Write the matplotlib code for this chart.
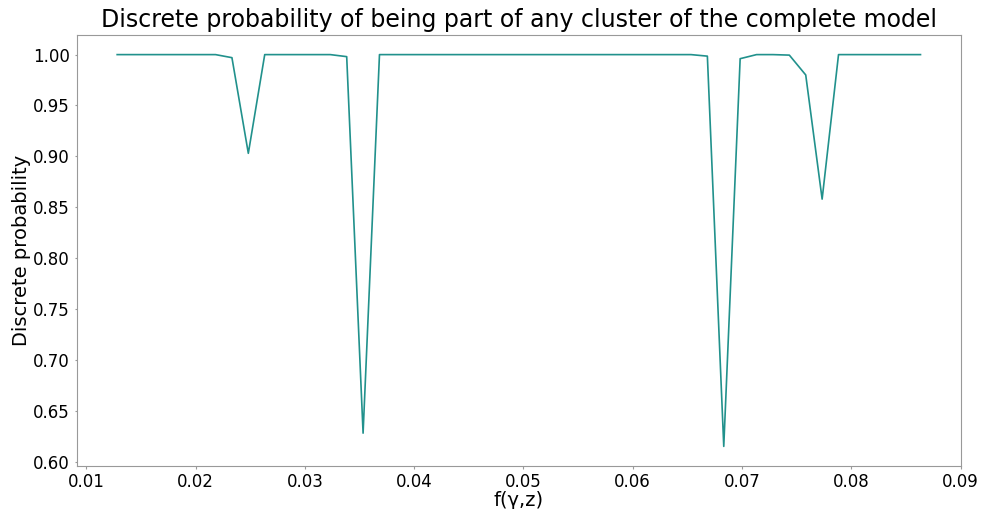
import numpy as np
import matplotlib
matplotlib.use("Agg")
import matplotlib.pyplot as plt

# f(gamma, z) values (50 evenly spaced points)
f_vals = [0.01283, 0.01433, 0.01583, 0.01733, 0.01883, 0.02033, 0.02183, 0.02333, 0.02483, 0.02633,
          0.02783, 0.02933, 0.03083, 0.03233, 0.03383, 0.03533, 0.03683, 0.03833, 0.03983, 0.04133,
          0.04283, 0.04433, 0.04583, 0.04733, 0.04883, 0.05033, 0.05183, 0.05333, 0.05483, 0.05633,
          0.05783, 0.05933, 0.06083, 0.06233, 0.06383, 0.06533, 0.06683, 0.06833, 0.06983, 0.07133,
          0.07283, 0.07433, 0.07583, 0.07733, 0.07883, 0.08033, 0.08183, 0.08333, 0.08483, 0.08633]

prob = [1.0, 1.0, 1.0, 1.0, 1.0, 1.0, 1.0, 0.997, 0.903, 1.0,
        1.0, 1.0, 1.0, 1.0, 0.998, 0.628, 1.0, 1.0, 1.0, 1.0,
        1.0, 1.0, 1.0, 1.0, 1.0, 1.0, 1.0, 1.0, 1.0, 1.0,
        1.0, 1.0, 1.0, 1.0, 1.0, 1.0, 0.9985, 0.615, 0.996, 1.0,
        1.0, 0.9995, 0.980, 0.858, 1.0, 1.0, 1.0, 1.0, 1.0, 1.0]

fig = plt.figure(figsize=(9.86, 5.09), dpi=100)
ax = fig.add_axes([0.0781, 0.0845, 0.8962, 0.8467])

ax.plot(f_vals, prob, color="#21918c", lw=1.2)

ax.set_title("Discrete probability of being part of any cluster of the complete model", fontsize=17)
ax.set_xlabel("f(γ,z)", fontsize=14, labelpad=0)
ax.set_ylabel("Discrete probability", fontsize=14, labelpad=1)
ax.set_xticks([0.01, 0.02, 0.03, 0.04, 0.05, 0.06, 0.07, 0.08, 0.09])
ax.tick_params(labelsize=12, color="#999999", length=1.8, pad=3.5)
for s in ax.spines.values():
    s.set_color("#999999")

fig.savefig("out.png", dpi=100)
